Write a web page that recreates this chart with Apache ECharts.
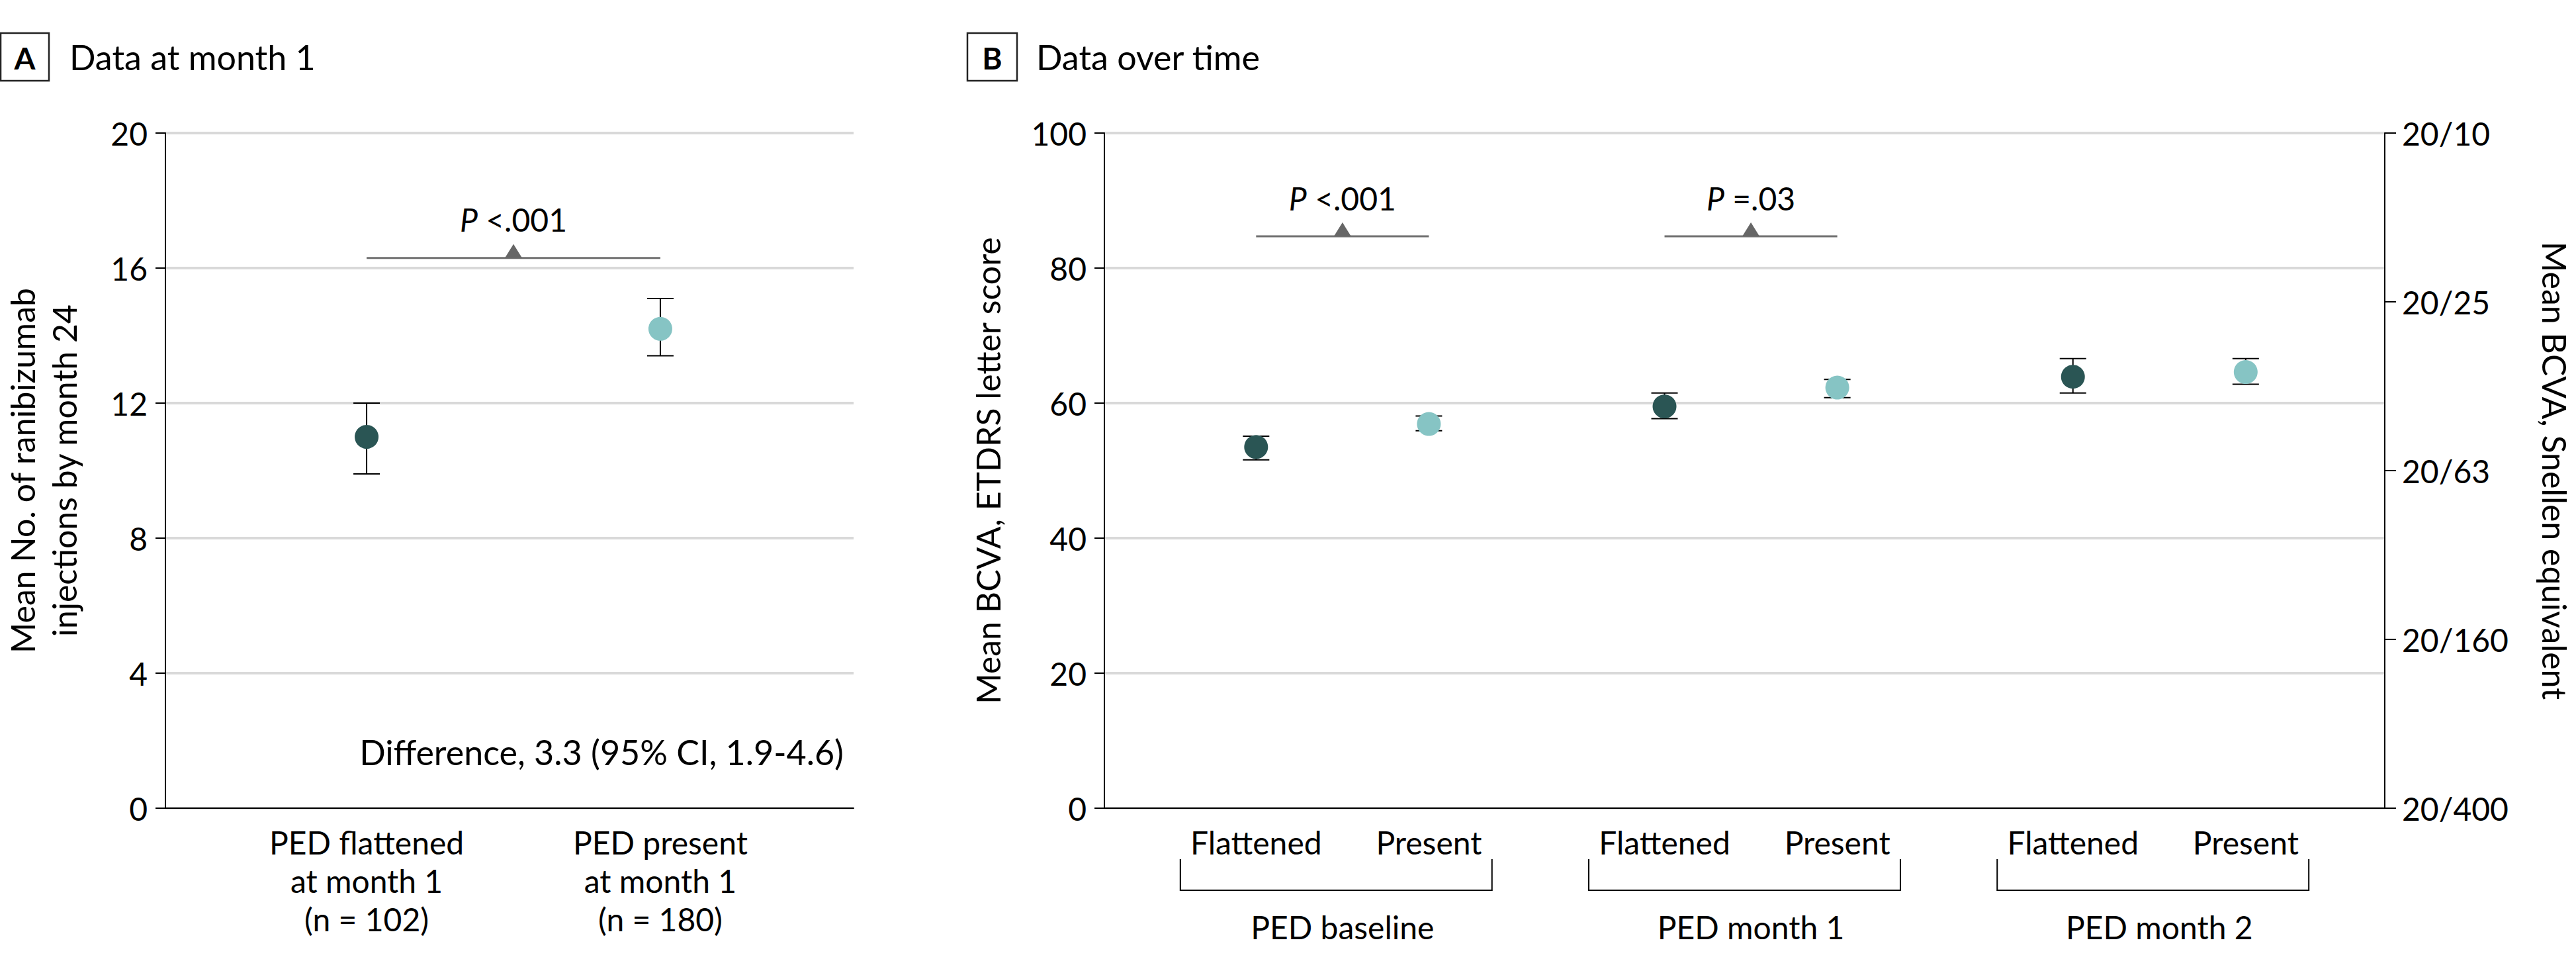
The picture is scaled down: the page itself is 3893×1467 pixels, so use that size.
<!DOCTYPE html>
<html>
<head>
<meta charset="utf-8">
<script src="https://cdn.jsdelivr.net/npm/echarts@6/dist/echarts.min.js"></script>
<style>
html,body{margin:0;padding:0;background:#fff;}
#c{width:3893px;height:1467px;}
</style>
</head>
<body>
<div id="c"></div>
<script>
// ---------- Panel A: data at month 1 ----------
const aCategories = ['PED flattened\nat month 1\n(n = 102)', 'PED present\nat month 1\n(n = 180)'];
const aMean = [11.0, 14.2];
const aLow = [9.9, 13.4];
const aHigh = [12.0, 15.1];
const aYTicks = [0, 4, 8, 12, 16, 20];
const aYName = 'Mean No. of ranibizumab\ninjections by month 24';
const aPText = ['<.001'];
const aPBracketY = [16.3];
const aDifference = 'Difference, 3.3 (95% CI, 1.9-4.6)';

// ---------- Panel B: data over time ----------
const bGroups = ['PED baseline', 'PED month 1', 'PED month 2'];
const bStatus = ['Flattened', 'Present'];
const bFlatMean = [53.5, 59.5, 63.9];
const bFlatLow = [51.6, 57.7, 61.5];
const bFlatHigh = [55.1, 61.5, 66.6];
const bPresMean = [56.9, 62.3, 64.6];
const bPresLow = [55.9, 60.8, 62.8];
const bPresHigh = [58.1, 63.5, 66.6];
const bYTicks = [0, 20, 40, 60, 80, 100];
const bSnellen = ['20/400', '20/160', '20/63', '20/25', '20/10'];
const bYName = 'Mean BCVA, ETDRS letter score';
const bY2Name = 'Mean BCVA, Snellen equivalent';
const bPGroups = [0, 1];
const bPText = ['<.001', '=.03'];
const bPBracketY = [84.7, 84.7];

// ---------- styling ----------
const FONT = 'Lato, "Open Sans", "Noto Sans", sans-serif';
const TXT = '#000000';
const AXIS = '#000000';
const GRID_GRAY = '#d9d9d9';
const statusColors = ['#2a5554', '#86c4c4'];
const PAIR_OFF = 0.2115;

const bPos = (g, s) => g + (s === 0 ? -PAIR_OFF : PAIR_OFF);
const bMeans = [bFlatMean, bPresMean];
const bLows = [bFlatLow, bPresLow];
const bHighs = [bFlatHigh, bPresHigh];
const bLabelValues = [];
bGroups.forEach((g, gi) => bStatus.forEach((s, si) => bLabelValues.push(bPos(gi, si))));

function errorBarItem(params, api) {
  const x = api.value(0), lo = api.value(1), hi = api.value(2);
  const pLo = api.coord([x, lo]), pHi = api.coord([x, hi]);
  const cap = 20;
  const st = {stroke: AXIS, lineWidth: 2};
  return {type: 'group', children: [
    {type: 'line', shape: {x1: pLo[0], y1: pLo[1], x2: pHi[0], y2: pHi[1]}, style: st},
    {type: 'line', shape: {x1: pLo[0] - cap, y1: pLo[1], x2: pLo[0] + cap, y2: pLo[1]}, style: st},
    {type: 'line', shape: {x1: pHi[0] - cap, y1: pHi[1], x2: pHi[0] + cap, y2: pHi[1]}, style: st}
  ]};
}

function pBracketMaker(texts) {
  return function (params, api) {
    const p1 = api.coord([api.value(0), api.value(2)]);
    const p2 = api.coord([api.value(1), api.value(2)]);
    const mx = (p1[0] + p2[0]) / 2, py = p1[1];
    return {type: 'group', children: [
      {type: 'line', shape: {x1: p1[0], y1: py, x2: p2[0], y2: py}, style: {stroke: '#707070', lineWidth: 3}},
      {type: 'polygon', shape: {points: [[mx - 13, py], [mx + 13, py], [mx, py - 21]]}, style: {fill: '#666666'}},
      {type: 'text', x: mx, y: py - 58, style: {
        text: '{i|P} ' + texts[params.dataIndex],
        rich: {i: {fontStyle: 'italic', fontFamily: FONT, fontSize: 48, fill: TXT}},
        fontFamily: FONT, fontSize: 48, fill: TXT, align: 'center', verticalAlign: 'middle'}}
    ]};
  };
}

function groupBracketItem(params, api) {
  const g = api.value(0);
  const pA = api.coord([g - 0.397, 0]);
  const pB = api.coord([g + 0.366, 0]);
  const pC = api.coord([g, 0]);
  const y0 = pA[1];
  return {type: 'group', children: [
    {type: 'polyline', shape: {points: [[pA[0], y0 + 77], [pA[0], y0 + 124], [pB[0], y0 + 124], [pB[0], y0 + 77]]},
      style: {stroke: AXIS, lineWidth: 2, fill: null}},
    {type: 'text', x: pC[0], y: y0 + 179, style: {text: bGroups[g], fontFamily: FONT, fontSize: 48, fill: TXT,
      align: 'center', verticalAlign: 'middle'}}
  ]};
}

const labelStyle = {fontFamily: FONT, fontSize: 48, color: TXT};
const axisLineStyle = {show: true, onZero: false, lineStyle: {color: AXIS, width: 2}};

const series = [];
// Panel A
series.push({type: 'custom', xAxisIndex: 0, yAxisIndex: 0, renderItem: errorBarItem, encode: {x: 0, y: [1, 2]},
  data: aMean.map((m, i) => [i, aLow[i], aHigh[i]]), z: 2, silent: true});
series.push({type: 'scatter', xAxisIndex: 0, yAxisIndex: 0, symbol: 'circle', symbolSize: 36, z: 3, silent: true,
  data: aMean.map((m, i) => ({value: [i, m], itemStyle: {color: statusColors[i], opacity: 1}}))});
series.push({type: 'custom', xAxisIndex: 0, yAxisIndex: 0, renderItem: pBracketMaker(aPText), encode: {x: [0, 1], y: 2},
  data: aPBracketY.map(y => [0, 1, y]), z: 4, silent: true});
// Panel B
bStatus.forEach((s, si) => {
  series.push({type: 'custom', xAxisIndex: 1, yAxisIndex: 1, renderItem: errorBarItem, encode: {x: 0, y: [1, 2]},
    data: bGroups.map((g, gi) => [bPos(gi, si), bLows[si][gi], bHighs[si][gi]]), z: 2, silent: true});
});
bStatus.forEach((s, si) => {
  series.push({type: 'scatter', name: s, xAxisIndex: 1, yAxisIndex: 1, symbol: 'circle', symbolSize: 36, z: 3, silent: true,
    itemStyle: {color: statusColors[si], opacity: 1},
    data: bGroups.map((g, gi) => [bPos(gi, si), bMeans[si][gi]])});
});
series.push({type: 'custom', xAxisIndex: 1, yAxisIndex: 1, renderItem: pBracketMaker(bPText), encode: {x: [0, 1], y: 2},
  data: bPGroups.map((g, k) => [bPos(g, 0), bPos(g, 1), bPBracketY[k]]), z: 4, silent: true});
series.push({type: 'custom', xAxisIndex: 1, yAxisIndex: 1, renderItem: groupBracketItem, encode: {x: 0, y: 1},
  data: bGroups.map((g, gi) => [gi, 0]), z: 4, silent: true});

const option = {
  animation: false,
  backgroundColor: '#ffffff',
  textStyle: {fontFamily: FONT},
  grid: [
    {left: 250, top: 201, width: 1040, height: 1020, containLabel: false, outerBoundsMode: 'none'},
    {left: 1669, top: 201, width: 1935, height: 1020, containLabel: false, outerBoundsMode: 'none'}
  ],
  xAxis: [
    {gridIndex: 0, type: 'value', min: -0.685, max: 1.658, axisLine: axisLineStyle, axisTick: {show: false},
      splitLine: {show: false},
      axisLabel: Object.assign({customValues: aCategories.map((c, i) => i), margin: 22, lineHeight: 58, align: 'center',
        formatter: v => aCategories[Math.round(v)] || ''}, labelStyle)},
    {gridIndex: 1, type: 'value', min: -0.583, max: 2.552, axisLine: axisLineStyle, axisTick: {show: false},
      splitLine: {show: false},
      axisLabel: Object.assign({customValues: bLabelValues, margin: 22, lineHeight: 58,
        formatter: v => {
          let best = 0, bd = 1e9;
          bLabelValues.forEach((p, k) => { const d = Math.abs(p - v); if (d < bd) { bd = d; best = k; } });
          return bStatus[best % 2];
        }}, labelStyle)}
  ],
  yAxis: [
    {gridIndex: 0, type: 'value', min: aYTicks[0], max: aYTicks[aYTicks.length - 1], interval: aYTicks[1] - aYTicks[0],
      name: aYName, nameLocation: 'middle', nameRotate: 90, nameGap: 122,
      nameTextStyle: {fontFamily: FONT, fontSize: 50, lineHeight: 63, color: TXT},
      axisLine: axisLineStyle, axisTick: {show: true, length: 15, lineStyle: {color: AXIS, width: 2}},
      axisLabel: Object.assign({margin: 27}, labelStyle),
      splitLine: {show: true, lineStyle: {color: GRID_GRAY, width: 4}}},
    {gridIndex: 1, type: 'value', position: 'left', min: bYTicks[0], max: bYTicks[bYTicks.length - 1], interval: bYTicks[1] - bYTicks[0],
      name: bYName, nameLocation: 'middle', nameRotate: 90, nameGap: 145,
      nameTextStyle: {fontFamily: FONT, fontSize: 50, lineHeight: 63, color: TXT},
      axisLine: axisLineStyle, axisTick: {show: true, length: 15, lineStyle: {color: AXIS, width: 2}},
      axisLabel: Object.assign({margin: 27}, labelStyle),
      splitLine: {show: true, lineStyle: {color: GRID_GRAY, width: 4}}},
    {gridIndex: 1, type: 'value', position: 'right', min: 0, max: 100, interval: 100 / (bSnellen.length - 1),
      name: bY2Name, nameLocation: 'middle', nameRotate: -90, nameGap: 225,
      nameTextStyle: {fontFamily: FONT, fontSize: 50, lineHeight: 63, color: TXT},
      axisLine: axisLineStyle, axisTick: {show: true, length: 17, lineStyle: {color: AXIS, width: 2}},
      axisLabel: Object.assign({margin: 26, formatter: v => bSnellen[Math.round(v / 25)] || ''}, labelStyle),
      splitLine: {show: false}}
  ],
  graphic: [
    {type: 'rect', shape: {x: 1, y: 50, width: 73, height: 72}, style: {fill: '#fff', stroke: '#222', lineWidth: 2.5}},
    {type: 'text', x: 37.5, y: 87, style: {text: 'A', fontFamily: FONT, fontWeight: 'bold', fontSize: 46, fill: TXT, align: 'center', verticalAlign: 'middle'}},
    {type: 'text', x: 105, y: 86, style: {text: 'Data at month 1', fontFamily: FONT, fontSize: 52, fill: TXT, align: 'left', verticalAlign: 'middle'}},
    {type: 'rect', shape: {x: 1462, y: 50, width: 75, height: 72}, style: {fill: '#fff', stroke: '#222', lineWidth: 2.5}},
    {type: 'text', x: 1499.5, y: 87, style: {text: 'B', fontFamily: FONT, fontWeight: 'bold', fontSize: 46, fill: TXT, align: 'center', verticalAlign: 'middle'}},
    {type: 'text', x: 1566, y: 86, style: {text: 'Data over time', fontFamily: FONT, fontSize: 52, fill: TXT, align: 'left', verticalAlign: 'middle'}},
    {type: 'text', x: 1275, y: 1136, style: {text: aDifference, fontFamily: FONT, fontSize: 52, fill: TXT, align: 'right', verticalAlign: 'middle'}}
  ],
  series: series
};

const chart = echarts.init(document.getElementById('c'), null, {renderer: 'svg'});
chart.setOption(option);
</script>
</body>
</html>
